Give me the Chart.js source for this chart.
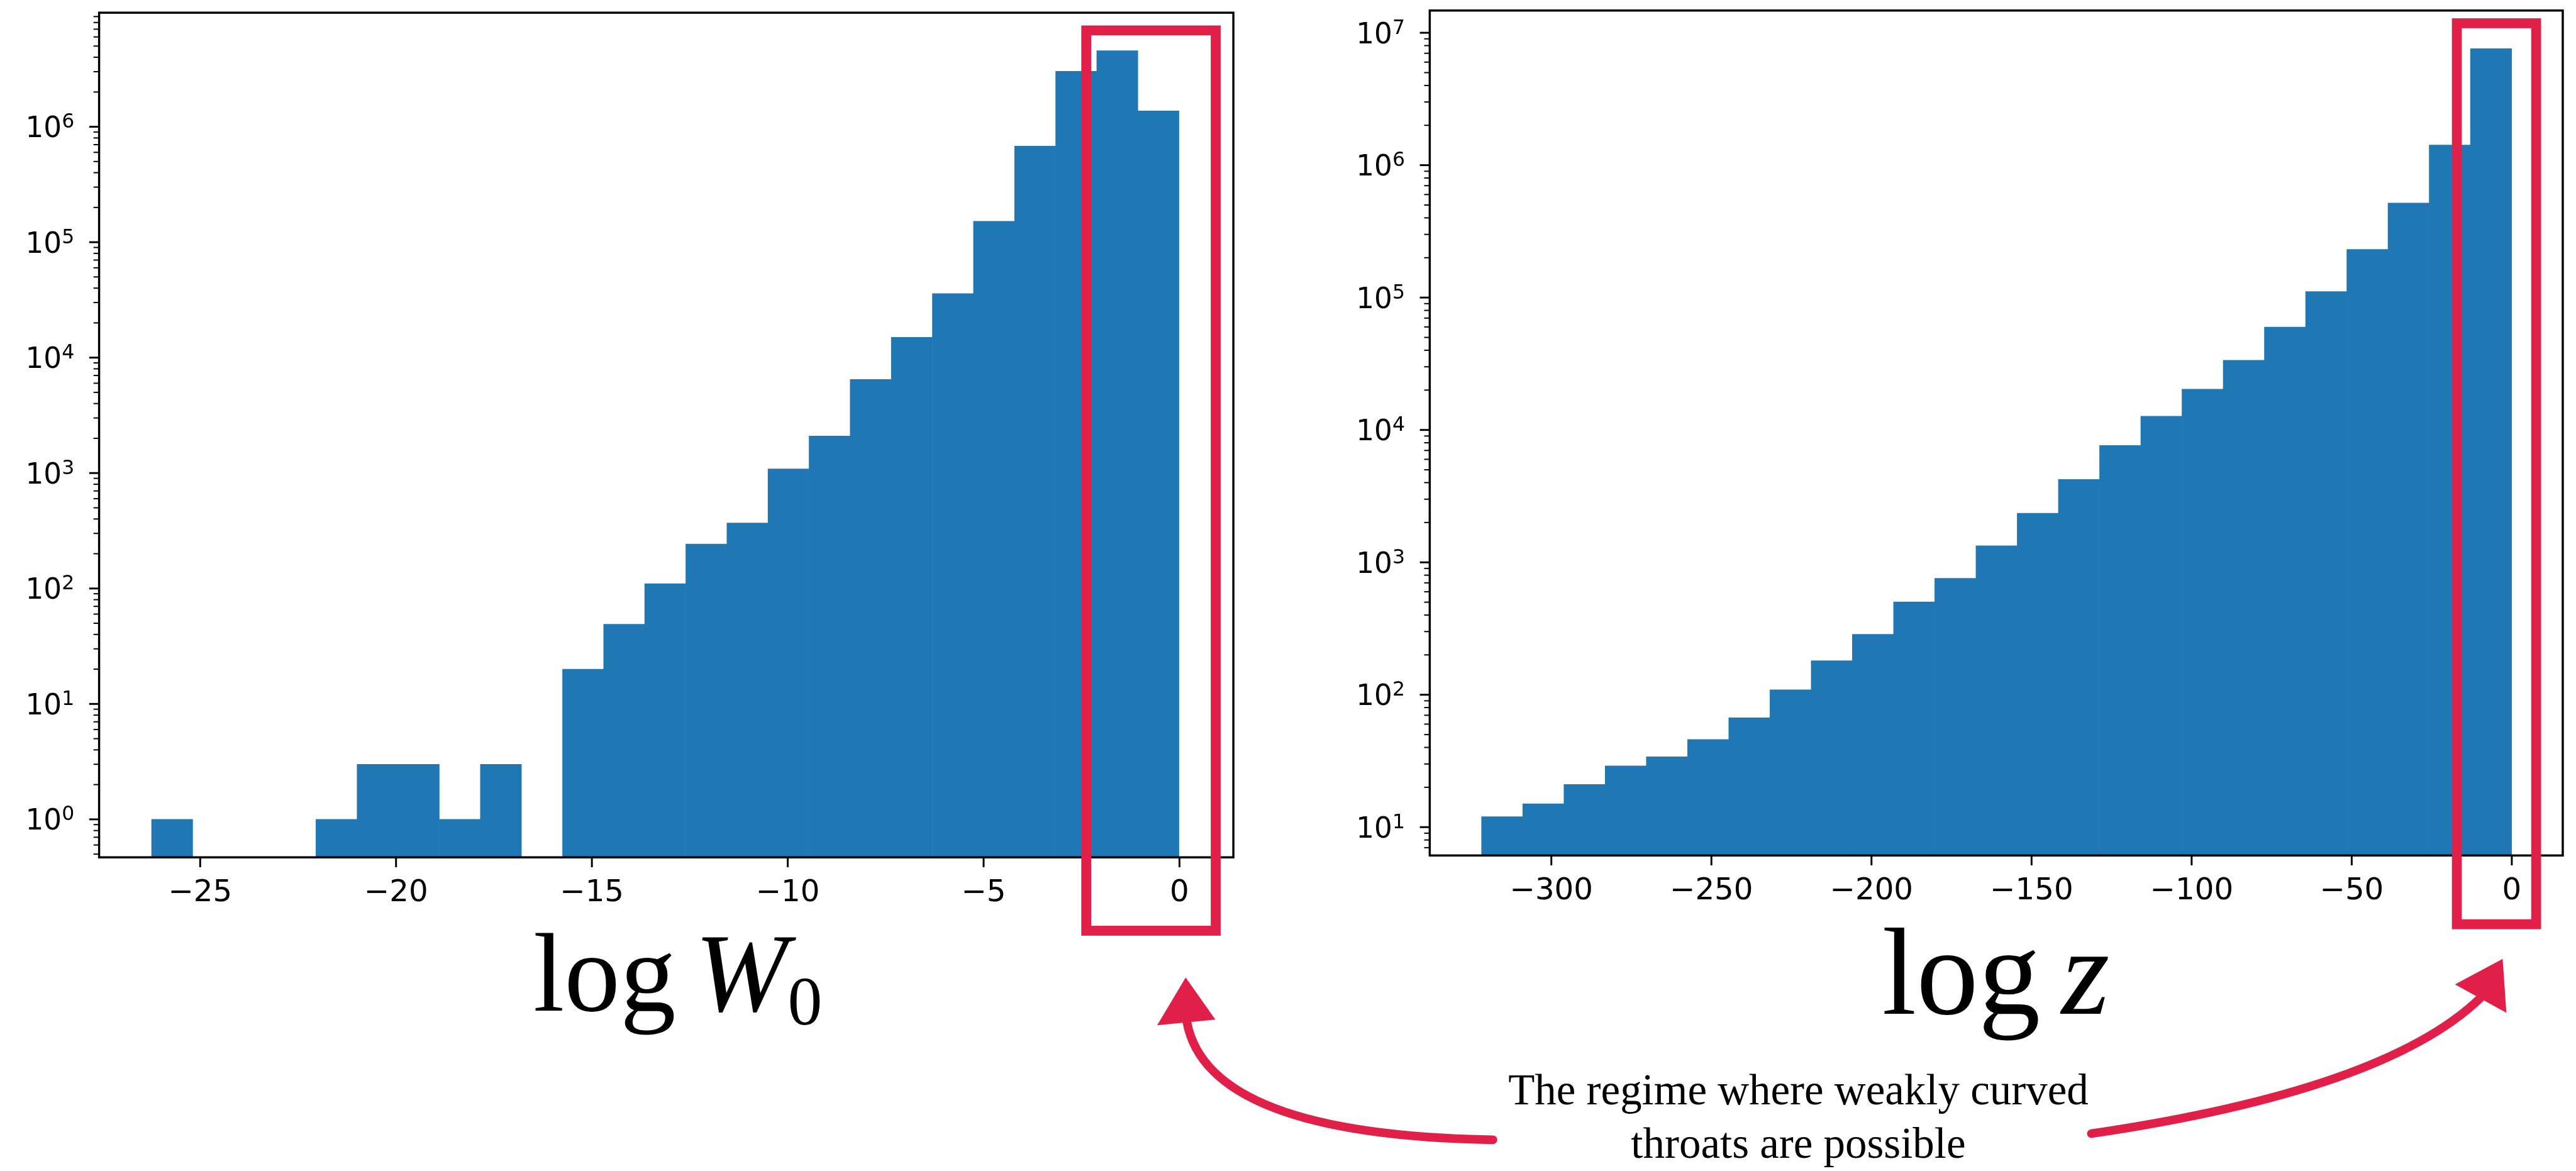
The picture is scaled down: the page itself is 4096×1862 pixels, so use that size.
<!DOCTYPE html>
<html>
<head>
<meta charset="utf-8">
<script src="https://cdn.jsdelivr.net/npm/chart.js@4.4.1/dist/chart.umd.min.js"></script>
<style>
html,body{margin:0;padding:0;background:#fff;}
#page{position:relative;width:4096px;height:1862px;overflow:hidden;background:#fff;}
canvas{position:absolute;top:0;}
.t{position:absolute;white-space:nowrap;font-family:'Liberation Serif','DejaVu Serif',serif;color:#000;line-height:1;}
.it{font-style:italic;}
.sub{position:relative;font-size:0.62em;top:0.2em;}
</style>
</head>
<body>
<div id="page">
  <canvas id="cW"></canvas>
  <canvas id="cZ"></canvas>
  <canvas id="ov"></canvas>
  <div class="t" id="labW">log<span class="it" style="margin-left:0.17em">W</span><span class="sub">0</span></div>
  <div class="t" id="labZ">log<span class="it" style="margin-left:0.17em">z</span></div>
  <div class="t" id="note1">The regime where weakly curved</div>
  <div class="t" id="note2">throats are possible</div>
</div>
<script>
// ---------------- data ----------------
const w0Centers = [-25.716, -24.667, -23.618, -22.569, -21.520, -20.470, -19.421, -18.372, -17.323, -16.274,
                   -15.225, -14.176, -13.127, -12.078, -11.029, -9.980, -8.931, -7.882, -6.833, -5.783,
                   -4.734, -3.685, -2.636, -1.587, -0.538];
const w0Counts  = [1, null, null, null, 1, 3, 3, 1, 3, null,
                   20, 49, 110, 243, 369, 1087, 2090, 6470, 15000, 35900,
                   152000, 680000, 3020000, 4560000, 1370000];
const zCenters  = [-315.37, -302.50, -289.63, -276.76, -263.89, -251.02, -238.15, -225.28, -212.41, -199.54,
                   -186.67, -173.80, -160.93, -148.06, -135.19, -122.32, -109.45, -96.58, -83.71, -70.84,
                   -57.97, -45.10, -32.23, -19.36, -6.49];
const zCounts   = [12, 15, 21, 29, 34, 46, 67, 109, 181, 286,
                   502, 757, 1336, 2350, 4230, 7640, 12700, 20300, 33600, 59800,
                   111000, 231000, 518000, 1420000, 7590000];
const w0XTicks = [-25, -20, -15, -10, -5, 0];
const w0YTicks = [1e0, 1e1, 1e2, 1e3, 1e4, 1e5, 1e6];
const zXTicks  = [-300, -250, -200, -150, -100, -50, 0];
const zYTicks  = [1e1, 1e2, 1e3, 1e4, 1e5, 1e6, 1e7];
// axis ranges
const w0XRange = [-27.58, 1.376];
const w0YRange = [Math.pow(10, -0.329), Math.pow(10, 6.988)];
const zXRange  = [-337.98, 15.92];
const zYRange  = [Math.pow(10, 0.786), Math.pow(10, 7.168)];
// highlighted regime (red boxes), in data units
const w0Box = {x0: -2.38, x1: 0.925, yTop: 6.83e6, bottomOff: 118.5};
const zBox  = {x0: -17.16, x1: 7.60, yTop: 1.18e7, bottomOff: 111};

// ---------------- layout ----------------
const S = 0.985;
const H = 1862;
const WA = Math.round(2100 * S);
const WB = 4096 - WA;
const BLUE = '#1f77b4';
const RED = '#e1204a';

function fmtX(v){ if (Math.abs(v) < 1e-9) return '0'; return v < 0 ? '\u2212' + Math.abs(v) : String(v); }

const framePlugin = {
  id: 'frameTicks',
  afterDraw(chart) {
    const {ctx, chartArea: a, scales: {x, y}} = chart;
    ctx.save();
    ctx.strokeStyle = '#000';
    ctx.lineCap = 'butt';
    const line = (x1, y1, x2, y2) => { ctx.beginPath(); ctx.moveTo(x1, y1); ctx.lineTo(x2, y2); ctx.stroke(); };
    ctx.lineWidth = 3 * S;
    x.ticks.forEach(t => { const p = x.getPixelForValue(t.value); line(p, a.bottom, p, a.bottom + 16 * S); });
    y.ticks.forEach(t => { const p = y.getPixelForValue(t.value); line(a.left - 16 * S, p, a.left, p); });
    ctx.lineWidth = 2 * S;
    const e0 = Math.floor(Math.log10(y.min)), e1 = Math.ceil(Math.log10(y.max));
    for (let e = e0; e <= e1; e++) {
      for (let m = 2; m <= 9; m++) {
        const v = m * Math.pow(10, e);
        if (v > y.min && v < y.max) { const p = y.getPixelForValue(v); line(a.left - 9 * S, p, a.left, p); }
      }
    }
    ctx.lineWidth = 3.5 * S;
    ctx.strokeRect(a.left, a.top, a.right - a.left, a.bottom - a.top);
    // y tick labels: 10 with a raised exponent (mathtext style)
    const fMain = 46 * S, fExp = 32 * S;
    ctx.fillStyle = '#000';
    ctx.textBaseline = 'alphabetic';
    y.ticks.forEach(t => {
      const p = y.getPixelForValue(t.value);
      const ex = String(Math.round(Math.log10(t.value)));
      const right = a.left - 40 * S;
      const base = p + 0.3645 * fMain;
      ctx.font = fExp + 'px "DejaVu Sans"';
      ctx.textAlign = 'right';
      ctx.fillText(ex, right, base - 0.33 * fMain);
      const wExp = ctx.measureText(ex).width;
      ctx.font = fMain + 'px "DejaVu Sans"';
      ctx.fillText('10', right - wExp, base);
    });
    // red highlight box
    const b = chart.options.plugins.redBox;
    if (b) {
      const xl = x.getPixelForValue(b.x0), xr = x.getPixelForValue(b.x1);
      const yt = y.getPixelForValue(b.yTop), yb = a.bottom + b.bottomOff * S;
      ctx.strokeStyle = RED;
      ctx.lineWidth = 16 * S;
      ctx.lineJoin = 'miter';
      ctx.strokeRect(xl, yt, xr - xl, yb - yt);
    }
    ctx.restore();
  }
};

function makeChart(id, c) {
  const cv = document.getElementById(id);
  cv.width = c.w; cv.height = H;
  cv.style.left = c.left + 'px';
  cv.style.width = c.w + 'px'; cv.style.height = H + 'px';
  return new Chart(cv, {
    type: 'bar',
    data: {
      datasets: [{
        data: c.centers.map((v, i) => ({x: v, y: c.counts[i]})),
        backgroundColor: BLUE, borderWidth: 0,
        barPercentage: 1, categoryPercentage: 1
      }]
    },
    options: {
      responsive: false, animation: false, devicePixelRatio: 1,
      layout: {padding: c.pad},
      plugins: {legend: {display: false}, tooltip: {enabled: false}, redBox: c.box},
      scales: {
        x: {
          type: 'linear', min: c.xr[0], max: c.xr[1], offset: false,
          grid: {display: true, drawOnChartArea: false, drawTicks: false, offset: false, color: 'rgba(0,0,0,0)'},
          border: {display: false},
          afterBuildTicks: s => { s.ticks = c.xt.map(v => ({value: v})); },
          afterFit: s => { s.height = 100 * S; s.paddingLeft = 0; s.paddingRight = 0; },
          ticks: {autoSkip: false, maxRotation: 0, minRotation: 0, padding: 29 * S, color: '#000',
                  font: {family: 'DejaVu Sans', size: 49 * S}, callback: v => fmtX(v)}
        },
        y: {
          type: 'logarithmic', min: c.yr[0], max: c.yr[1],
          grid: {display: true, drawOnChartArea: false, drawTicks: false, color: 'rgba(0,0,0,0)'},
          border: {display: false},
          afterBuildTicks: s => { s.ticks = c.yt.map(v => ({value: v, major: true})); },
          afterFit: s => { s.width = 150 * S; s.paddingTop = 0; s.paddingBottom = 0; },
          ticks: {display: false, autoSkip: false}
        }
      }
    },
    plugins: [framePlugin]
  });
}

makeChart('cW', {
  w: WA, left: 0, centers: w0Centers, counts: w0Counts, xr: w0XRange, yr: w0YRange,
  xt: w0XTicks, yt: w0YTicks, box: w0Box,
  pad: {left: 10 * S, top: 20.5 * S, right: WA - 1991 * S, bottom: H - 1384 * S - 100 * S}
});
makeChart('cZ', {
  w: WB, left: WA, centers: zCenters, counts: zCounts, xr: zXRange, yr: zYRange,
  xt: zXTicks, yt: zYTicks, box: zBox,
  pad: {left: 2308 * S - WA - 150 * S, top: 17 * S, right: WB - (4137 * S - WA), bottom: H - 1381 * S - 100 * S}
});

// ---------------- overlay: arrows ----------------
(function(){
  const cv = document.getElementById('ov');
  cv.width = 4096; cv.height = H; cv.style.left = '0px';
  cv.style.width = '4096px'; cv.style.height = H + 'px';
  cv.style.pointerEvents = 'none';
  const ctx = cv.getContext('2d');
  ctx.scale(S, S);
  ctx.strokeStyle = RED; ctx.fillStyle = RED;
  ctx.lineWidth = 14; ctx.lineCap = 'round';
  function arrow(tail, ctrl, end, tip, c1, c2) {
    ctx.beginPath(); ctx.moveTo(tail[0], tail[1]);
    ctx.quadraticCurveTo(ctrl[0], ctrl[1], end[0], end[1]); ctx.stroke();
    ctx.beginPath(); ctx.moveTo(tip[0], tip[1]); ctx.lineTo(c1[0], c1[1]); ctx.lineTo(c2[0], c2[1]); ctx.closePath(); ctx.fill();
  }
  arrow([2410, 1840], [1950, 1832], [1916, 1650], [1914, 1578], [1868, 1655], [1962, 1646]);
  arrow([3376, 1830], [3850, 1760], [4004, 1611], [4040, 1548], [3963, 1589], [4046, 1635]);
})();

// ---------------- text positions ----------------
function place(id, left, baseline, size, center) {
  const el = document.getElementById(id);
  el.style.fontSize = (size * S) + 'px';
  el.style.top = ((baseline - 0.8375 * size) * S) + 'px';
  el.style.left = (left * S) + 'px';
  if (center) el.style.transform = 'translateX(-50%)';
}
place('labW', 861, 1632, 180, false);
place('labZ', 3038, 1637, 200, false);
place('note1', 2903, 1783, 70, true);
place('note2', 2903, 1870, 70, true);
</script>
</body>
</html>
